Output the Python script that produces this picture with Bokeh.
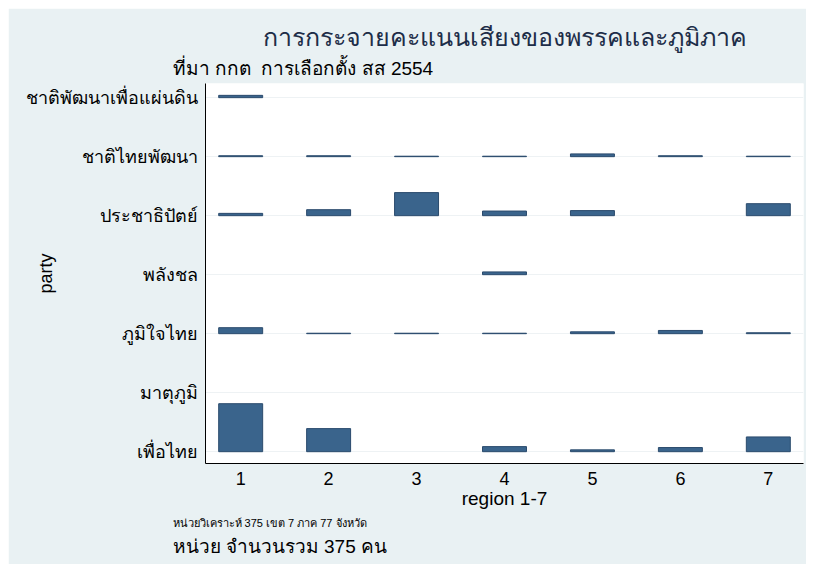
from bokeh.plotting import figure
from bokeh.models import Range1d, FixedTicker, Title, ColumnDataSource
from bokeh.embed import file_html
from bokeh.resources import INLINE

# ---- data (seats by party and region) ----
parties = ["ชาติพัฒนาเพื่อแผ่นดิน", "ชาติไทยพัฒนา", "ประชาธิปัตย์", "พลังชล",
           "ภูมิใจไทย", "มาตุภูมิ", "เพื่อไทย"]
regions = [1, 2, 3, 4, 5, 6, 7]
region_labels = ["1", "2", "3", "4", "5", "6", "7"]
seats_chartpattana = [5, 0, 0, 0, 0, 0, 0]
seats_chartthai = [2, 2, 1, 1, 6, 2, 1]
seats_democrat = [5, 13, 50, 10, 11, 0, 26]
seats_palangchon = [0, 0, 0, 6, 0, 0, 0]
seats_bhumjai = [13, 1, 1, 1, 4, 7, 2]
seats_matubhum = [0, 0, 0, 0, 0, 0, 0]
seats_pheuthai = [104, 50, 0, 11, 4, 9, 32]

title_text = "การกระจายคะแนนเสียงของพรรคและภูมิภาค"
subtitle_text = "ที่มา กกต\u00a0 การเลือกตั้ง สส 2554"
note1_text = "หน่วยวิเคราะห์ 375 เขต 7 ภาค 77 จังหวัด"
note2_text = "หน่วย จำนวนรวม 375 คน"
xlabel_text = "region 1-7"
ylabel_text = "party"

series = [seats_chartpattana, seats_chartthai, seats_democrat, seats_palangchon,
          seats_bhumjai, seats_matubhum, seats_pheuthai]

# ---- styling constants ----
BG = "#e9f1f3"
BAR = "#3a648c"
BAR_LINE = "#2b4b6d"
FONT = "Liberation Sans"
SCALE = (48.0 / 59.0) / 104.0   # bar height (row units) per seat

n = len(parties)
row_pos = [n - i for i in range(n)]   # top party at the top

xs, bottoms, tops = [], [], []
for i, vals in enumerate(series):
    for r, v in zip(regions, vals):
        if v > 0:
            xs.append(r)
            bottoms.append(row_pos[i])
            tops.append(row_pos[i] + v * SCALE)
src = ColumnDataSource(dict(x=xs, bottom=bottoms, top=tops))

p = figure(width=798, height=556, output_backend="svg", toolbar_location=None,
           x_range=Range1d(0.6, 7.4), y_range=Range1d(0.8, 7.24),
           min_border_left=197, min_border_right=3, min_border_top=75, min_border_bottom=101)
p.margin = (8, 8, 8, 8)
p.background_fill_color = "white"
p.border_fill_color = BG
p.outline_line_color = None

p.vbar(x="x", bottom="bottom", top="top", width=0.5, source=src,
       fill_color=BAR, line_color=BAR_LINE, line_width=1)

# axes
p.xaxis.ticker = FixedTicker(ticks=regions)
p.xaxis.major_label_overrides = {r: l for r, l in zip(regions, region_labels)}
p.yaxis.ticker = FixedTicker(ticks=row_pos)
p.yaxis.major_label_overrides = {rp: name for rp, name in zip(row_pos, parties)}
for ax in (p.xaxis[0], p.yaxis[0]):
    ax.axis_line_color = "black"
    ax.axis_line_width = 1
    ax.major_tick_line_color = None
    ax.minor_tick_line_color = None
    ax.major_label_text_font = FONT
    ax.major_label_text_color = "black"
    ax.axis_label_text_font = FONT
    ax.axis_label_text_font_style = "normal"
    ax.axis_label_text_color = "black"
p.xaxis.major_label_text_font_size = "18px"
p.xaxis.major_label_standoff = 2
p.xaxis.axis_label = xlabel_text
p.xaxis.axis_label_text_font_size = "19px"
p.xaxis.axis_label_standoff = 0
p.yaxis.major_label_text_font_size = "18px"
p.yaxis.major_label_standoff = 2
p.yaxis.axis_label = ylabel_text
p.yaxis.axis_label_text_font_size = "18px"
p.yaxis.axis_label_standoff = -33

p.xgrid.grid_line_color = None
p.ygrid.ticker = FixedTicker(ticks=row_pos)
p.ygrid.grid_line_color = "#eef2f4"
p.ygrid.grid_line_width = 1

# titles (above: first added is nearest the plot)
p.title = None
p.add_layout(Title(text=subtitle_text, align="left", offset=-33, standoff=10,
                   text_font=FONT, text_font_size="19px", text_font_style="normal",
                   text_color="black"), "above")
p.add_layout(Title(text=title_text, align="center", standoff=0,
                   text_font=FONT, text_font_size="25px", text_font_style="normal",
                   text_color="#1d2d48"), "above")
# notes below
p.add_layout(Title(text=note1_text, align="left", offset=-33, standoff=6,
                   text_font=FONT, text_font_size="11px", text_font_style="normal",
                   text_color="black"), "below")
p.add_layout(Title(text=note2_text, align="left", offset=-33, standoff=5,
                   text_font=FONT, text_font_size="19px", text_font_style="normal",
                   text_color="black"), "below")

open("out.html", "w").write(file_html(p, INLINE))
